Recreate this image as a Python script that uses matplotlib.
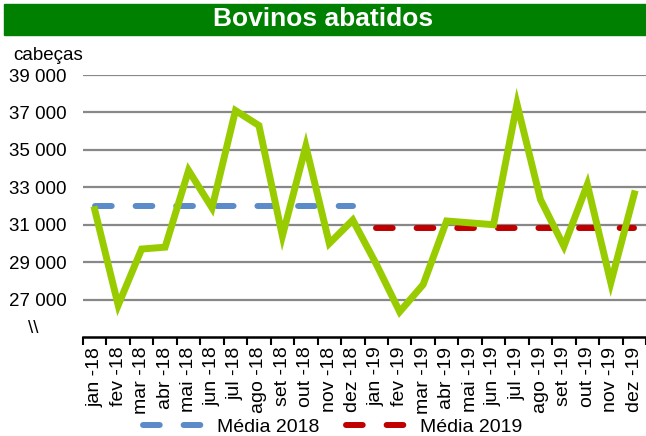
import matplotlib.pyplot as plt
import numpy as np
from matplotlib.patches import Rectangle

plt.rcParams['font.family'] = ['Liberation Sans', 'DejaVu Sans']

meses = ['jan -18', 'fev -18', 'mar -18', 'abr -18', 'mai -18', 'jun -18',
         'jul -18', 'ago -18', 'set -18', 'out -18', 'nov -18', 'dez -18',
         'jan -19', 'fev -19', 'mar -19', 'abr -19', 'mai -19', 'jun -19',
         'jul -19', 'ago -19', 'set -19', 'out -19', 'nov -19', 'dez -19']
abatidos = [31800, 26700, 29700, 29800, 33900, 31900, 37100, 36300, 30400, 35200, 30000, 31250,
            28900, 26350, 27800, 31200, 31100, 31000, 37450, 32350, 29850, 33150, 27900, 32650]
media_2018 = 32000
media_2019 = 30800
yticks = [27000, 29000, 31000, 33000, 35000, 37000, 39000]

fig = plt.figure(figsize=(6.46, 4.36), dpi=100)
ax = fig.add_axes([83/646, 1-337/436, 563/646, (337-75)/436])

x = np.arange(len(meses))
x18 = x[:12]
x19 = x[12:]

ax.plot(x18, [media_2018]*12, color='#5B8BC9', lw=4.3, dashes=(2.8, 4.0),
        dash_capstyle='round', label='Média 2018', zorder=3)
ax.plot(x19, [media_2019]*12, color='#C00000', lw=4.3, dashes=(2.8, 4.0),
        dash_capstyle='round', label='Média 2019', zorder=3)
ax.plot(x, abatidos, color='#99CC00', lw=5, solid_joinstyle='miter', zorder=4)

ax.set_xlim(-0.5, 23.5)
ax.set_ylim(25000, 39000)

ax.set_yticks(yticks)
ax.set_yticklabels([f'{v:,}'.replace(',', ' ') for v in yticks], fontsize=13.5)
ax.tick_params(axis='y', length=0, pad=12)
ax.grid(axis='y', color='#888888', lw=1.6)
ax.set_axisbelow(True)

ax.set_xticks(np.arange(-0.5, 24, 1))
ax.set_xticklabels([])
ax.set_xticks(x, minor=True)
ax.set_xticklabels(meses, minor=True, rotation=90, fontsize=14)
ax.tick_params(axis='x', which='major', length=6, width=1.5, color='black')
ax.tick_params(axis='x', which='minor', length=0, pad=7)

for s in ['top', 'right', 'left']:
    ax.spines[s].set_visible(False)
ax.spines['bottom'].set_linewidth(1.8)

# faixa do titulo
fig.patches.append(Rectangle((4/646, 1-35/436), 642/646, 31/436, transform=fig.transFigure,
                             color='#008000', zorder=0))
fig.text(0.5, 1-19/436, 'Bovinos abatidos', color='white', fontsize=19,
         fontweight='bold', ha='center', va='center')
fig.text(13/646, 1-55/436, 'cabeças', fontsize=13.5, va='center')
fig.text(33/646, 1-328/436, '\\\\', fontsize=13.5, ha='center', va='center')

fig.legend(loc='center', bbox_to_anchor=(0.515, 1-427/436), ncol=2, frameon=False,
           fontsize=14, handlelength=3.2, handletextpad=0.6, columnspacing=1.4, borderpad=0)

fig.savefig('out.png', dpi=100)
